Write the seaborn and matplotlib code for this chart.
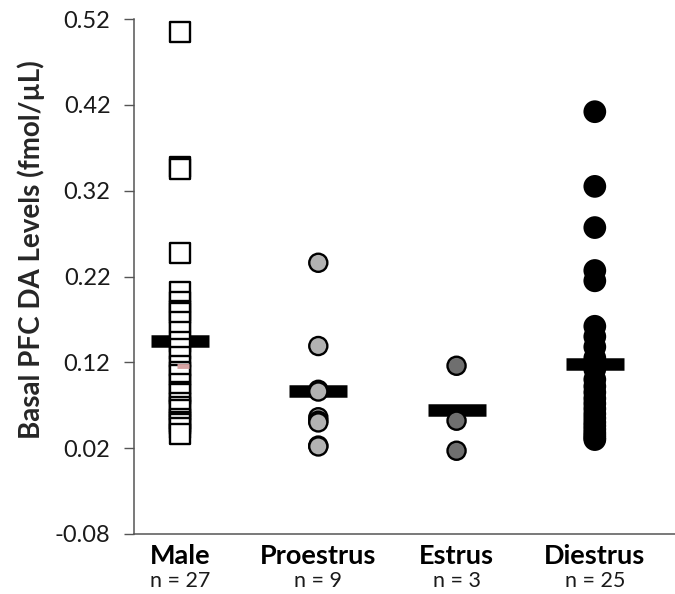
import matplotlib
matplotlib.use("Agg")
import matplotlib.pyplot as plt
import matplotlib.transforms as mtransforms
import numpy as np
import pandas as pd
import seaborn as sns

# Basal PFC dopamine levels (fmol/uL) per animal
groups = ["Male", "Proestrus", "Estrus", "Diestrus"]
n_labels = ["n = 27", "n = 9", "n = 3", "n = 25"]

male = [0.505, 0.348, 0.345, 0.247,
        0.202, 0.190, 0.180, 0.177, 0.167, 0.155, 0.144, 0.136, 0.126,
        0.116, 0.109, 0.105, 0.095, 0.085, 0.083, 0.073, 0.068, 0.064,
        0.054, 0.051, 0.048, 0.044, 0.037]
proestrus = [0.236, 0.139, 0.088, 0.086, 0.056, 0.052, 0.050, 0.023, 0.022]
estrus = [0.116, 0.052, 0.017]
diestrus = [0.412, 0.325, 0.277, 0.227, 0.215,
            0.162, 0.150, 0.138, 0.125, 0.112, 0.100, 0.092, 0.085, 0.078,
            0.072, 0.066, 0.060, 0.055, 0.050, 0.046, 0.042, 0.038, 0.035,
            0.032, 0.030]

# group means shown as horizontal bars
group_means = [0.145, 0.087, 0.064, 0.118]

yticks = [-0.08, 0.02, 0.12, 0.22, 0.32, 0.42, 0.52]

df = pd.DataFrame({
    "group": np.repeat(groups, [len(male), len(proestrus), len(estrus), len(diestrus)]),
    "value": male + proestrus + estrus + diestrus,
})

sns.set_style("white")
plt.rcParams["font.family"] = ["Lato", "DejaVu Sans"]

fig = plt.figure(figsize=(6.75, 5.94), dpi=100)
ax = fig.add_axes([134 / 675, 1 - 534 / 594, 1 - 134 / 675, (534 - 19) / 594])

# mean bars (behind the points)
xpos = np.arange(len(groups))
ax.hlines(group_means, xpos - 0.21, xpos + 0.21, colors="black",
          linewidth=9.0, zorder=1)

palette = {"Male": "white", "Proestrus": "#b2b2b2", "Estrus": "#6f6f6f", "Diestrus": "black"}
markers = {"Male": "s", "Proestrus": "o", "Estrus": "o", "Diestrus": "o"}
sizes = {"Male": 205, "Proestrus": 170, "Estrus": 170, "Diestrus": 215}

sns.scatterplot(data=df, x="group", y="value", hue="group", style="group",
                size="group", palette=palette, markers=markers, sizes=sizes,
                edgecolor="black", linewidth=1.7, legend=False, zorder=3, ax=ax)

# small pink tick inside the male column
ax.plot([0.02], [0.116], marker="_", markersize=9, markeredgewidth=3.5,
        color="#d6a2a2", zorder=4)

ax.set_xlim(-0.333, 3.58)
ax.set_ylim(-0.08, 0.52)
ax.set_yticks(yticks)
ax.set_yticklabels([f"{t:.2f}" for t in yticks], fontsize=17, color="#1a1a1a")
ax.set_xticks(xpos)
ax.set_xticklabels(groups, fontsize=19.5, fontweight="bold", color="black")
ax.tick_params(axis="x", length=0, pad=7)
ax.tick_params(axis="y", length=7, width=1, color="#555555", direction="out", left=True, pad=10)

trans = mtransforms.blended_transform_factory(ax.transData, ax.transAxes)
for x, lab in zip(xpos, n_labels):
    ax.text(x, -0.071, lab, transform=trans, ha="center", va="top",
            fontsize=15.5, color="#1a1a1a")

ax.set_xlabel("")
ax.set_ylabel("Basal PFC DA Levels (fmol/\u00b5L)", fontsize=20,
              fontweight="bold")
ax.yaxis.set_label_coords(-0.165, 0.553)

for side in ["top", "right"]:
    ax.spines[side].set_visible(False)
for side in ["left", "bottom"]:
    ax.spines[side].set_color("#555555")
    ax.spines[side].set_linewidth(1.1)

fig.savefig("out.png", dpi=100)
